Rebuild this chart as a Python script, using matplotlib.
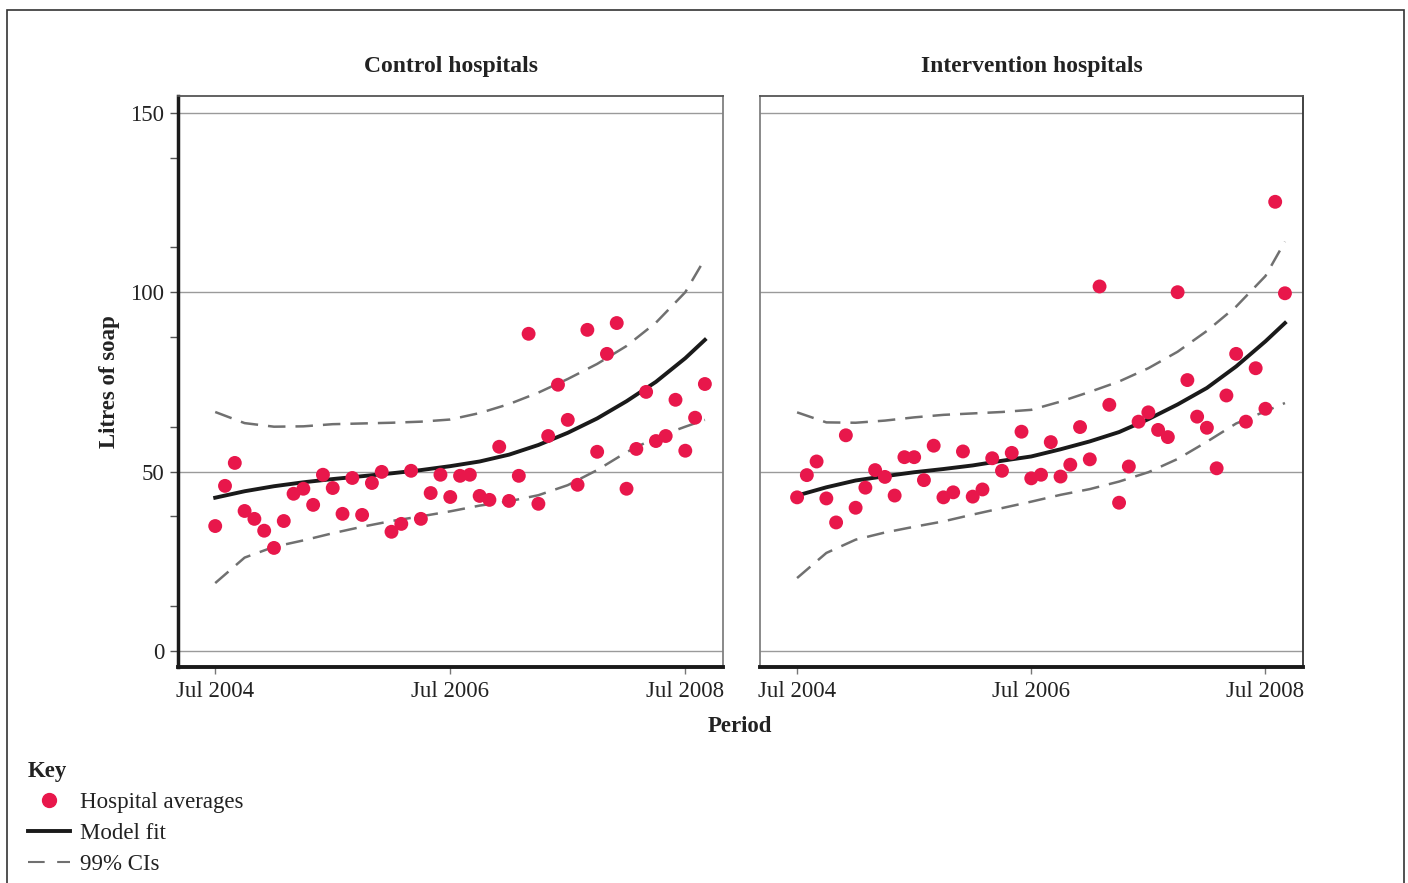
import numpy as np
import matplotlib.pyplot as plt
from matplotlib.lines import Line2D
from matplotlib.patches import Rectangle

plt.rcParams['font.family'] = ['Liberation Serif', 'DejaVu Serif']

# monthly hospital averages, Jul 2004 .. Sep 2008
ctrl_pts = [34.8, 46.0, 52.4, 39.0, 36.8, 33.5, 28.7, 36.2, 43.8, 45.2,
            40.7, 49.1, 45.4, 38.2, 48.2, 37.9, 46.8, 49.9, 33.2, 35.4,
            50.2, 36.8, 44.0, 49.1, 42.9, 48.8, 49.1, 43.2, 42.1, 56.9,
            41.8, 48.8, 88.4, 41.0, 59.9, 74.2, 64.4, 46.3, 89.5, 55.5,
            82.8, 91.4, 45.2, 56.3, 72.2, 58.5, 59.9, 70.0, 55.8, 65.0,
            74.4]
intv_pts = [42.8, 49.0, 52.8, 42.5, 35.8, 60.1, 39.9, 45.5, 50.4, 48.5,
            43.3, 54.0, 54.0, 47.6, 57.2, 42.8, 44.2, 55.6, 43.0, 45.0,
            53.7, 50.2, 55.2, 61.1, 48.1, 49.1, 58.2, 48.6, 51.9, 62.4,
            53.4, 101.6, 68.6, 41.3, 51.4, 63.9, 66.5, 61.6, 59.6, 100.0,
            75.5, 65.3, 62.2, 50.9, 71.2, 82.8, 63.9, 78.8, 67.5, 125.2,
            99.7]

# model fit and 99% CIs, read quarterly
curve_months = [0, 3, 6, 9, 12, 15, 18, 21, 24, 27, 30, 33, 36, 39, 42, 45, 48, 50]
ctrl_fit = [42.7, 44.5, 45.9, 47.0, 47.9, 48.7, 49.5, 50.4, 51.5, 52.8,
            54.7, 57.4, 60.8, 64.8, 69.6, 75.0, 81.6, 86.7]
ctrl_hi = [66.6, 63.5, 62.5, 62.6, 63.2, 63.4, 63.6, 63.9, 64.5, 66.3,
           68.8, 72.0, 75.8, 80.0, 85.0, 91.5, 100.0, 109.3]
ctrl_lo = [18.9, 26.0, 29.0, 30.8, 32.8, 34.6, 36.2, 37.5, 38.9, 40.5,
           41.7, 43.4, 46.2, 50.4, 55.4, 59.5, 62.5, 64.4]
intv_fit = [43.3, 45.6, 47.5, 48.7, 49.8, 50.7, 51.7, 53.0, 54.2, 56.2,
            58.4, 61.0, 64.6, 68.7, 73.3, 79.3, 86.3, 91.4]
intv_hi = [66.5, 63.7, 63.6, 64.2, 65.1, 65.8, 66.2, 66.6, 67.2, 69.5,
           72.2, 75.1, 78.8, 83.4, 89.2, 96.0, 104.5, 114.1]
intv_lo = [20.3, 27.3, 31.0, 33.0, 34.6, 36.1, 38.0, 39.8, 41.6, 43.5,
           45.1, 47.2, 49.8, 53.5, 58.3, 63.4, 66.8, 69.1]

tick_months = [0, 24, 48]
tick_labels = ['Jul 2004', 'Jul 2006', 'Jul 2008']
panels = ['Control hospitals', 'Intervention hospitals']

dot_col = '#E8174B'
ci_col = '#707070'
txt_col = '#222222'
fs = 16.5

fig = plt.figure(figsize=(14.08, 8.83), dpi=100)
fig.patches.append(Rectangle((7/1408, -0.05), 1397/1408, 1.05 - 10/883,
                             transform=fig.transFigure, fill=False,
                             edgecolor='#333333', linewidth=1.2))

ax1 = fig.add_axes([178/1408, 1-667/883, 545/1408, 571/883])
ax2 = fig.add_axes([760/1408, 1-667/883, 543/1408, 571/883])

months = np.arange(len(ctrl_pts))
data = [(ctrl_pts, ctrl_fit, ctrl_hi, ctrl_lo), (intv_pts, intv_fit, intv_hi, intv_lo)]

for ax, title, (pts, fit, hi, lo) in zip([ax1, ax2], panels, data):
    for yv in [0, 50, 100, 150]:
        ax.axhline(yv, color='#9a9a9a', lw=1.0, zorder=0)
    ax.plot(curve_months, hi, color=ci_col, lw=1.8, dashes=(7, 4), zorder=2)
    ax.plot(curve_months, lo, color=ci_col, lw=1.8, dashes=(7, 4), zorder=2)
    ax.plot(curve_months, fit, color='#1a1a1a', lw=2.8, zorder=3)
    ax.scatter(months, pts, s=100, color=dot_col, edgecolors='none', zorder=4)
    ax.set_xlim(-3.8, 51.85)
    ax.set_ylim(-4.5, 154.7)
    ax.set_xticks(tick_months)
    ax.set_xticklabels(tick_labels, fontsize=fs, color=txt_col)
    ax.tick_params(axis='x', length=5, width=1, color='#777777', pad=5)
    ax.set_title(title, fontsize=17, fontweight='bold', pad=17, color=txt_col)
    ax.spines['bottom'].set_linewidth(2.8)
    ax.spines['bottom'].set_color('#1a1a1a')
    for s in ['top', 'right', 'left']:
        ax.spines[s].set_linewidth(1.3)
        ax.spines[s].set_color('#555555')

ax1.spines['left'].set_linewidth(2.5)
ax1.spines['left'].set_color('#1a1a1a')
ax1.spines['right'].set_color('#808080')
ax2.spines['left'].set_color('#808080')
ax2.spines['right'].set_color('#333333')

ax1.set_yticks([0, 50, 100, 150])
ax1.set_yticks(np.arange(12.5, 150, 25), minor=True)
ax1.tick_params(axis='y', which='major', length=6, width=1, color='#555555',
                labelsize=fs, labelcolor=txt_col, pad=4)
ax1.tick_params(axis='y', which='minor', length=6, width=1, color='#555555')
ax1.set_ylabel('Litres of soap', fontsize=fs, fontweight='bold', labelpad=7, color=txt_col)
ax2.set_yticks([])

fig.text(740/1408, 1-727/883, 'Period', fontsize=fs, fontweight='bold',
         ha='center', va='center', color=txt_col)

handles = [Line2D([], [], marker='o', color=dot_col, linestyle='none', markersize=10),
           Line2D([], [], color='#1a1a1a', lw=2.8),
           Line2D([], [], color=ci_col, lw=1.5, dashes=(8, 6))]
leg = fig.legend(handles, ['Hospital averages', 'Model fit', '99% CIs'],
                 loc='upper left', bbox_to_anchor=(28/1408, 1-761/883),
                 frameon=False, fontsize=fs, title='Key', alignment='left',
                 title_fontproperties={'weight': 'bold', 'size': fs},
                 handlelength=1.83, handletextpad=0.45, labelspacing=0.44,
                 borderaxespad=0, borderpad=0)
for t in leg.get_texts():
    t.set_color(txt_col)
leg.get_title().set_color(txt_col)

fig.savefig('out.png', dpi=100)
